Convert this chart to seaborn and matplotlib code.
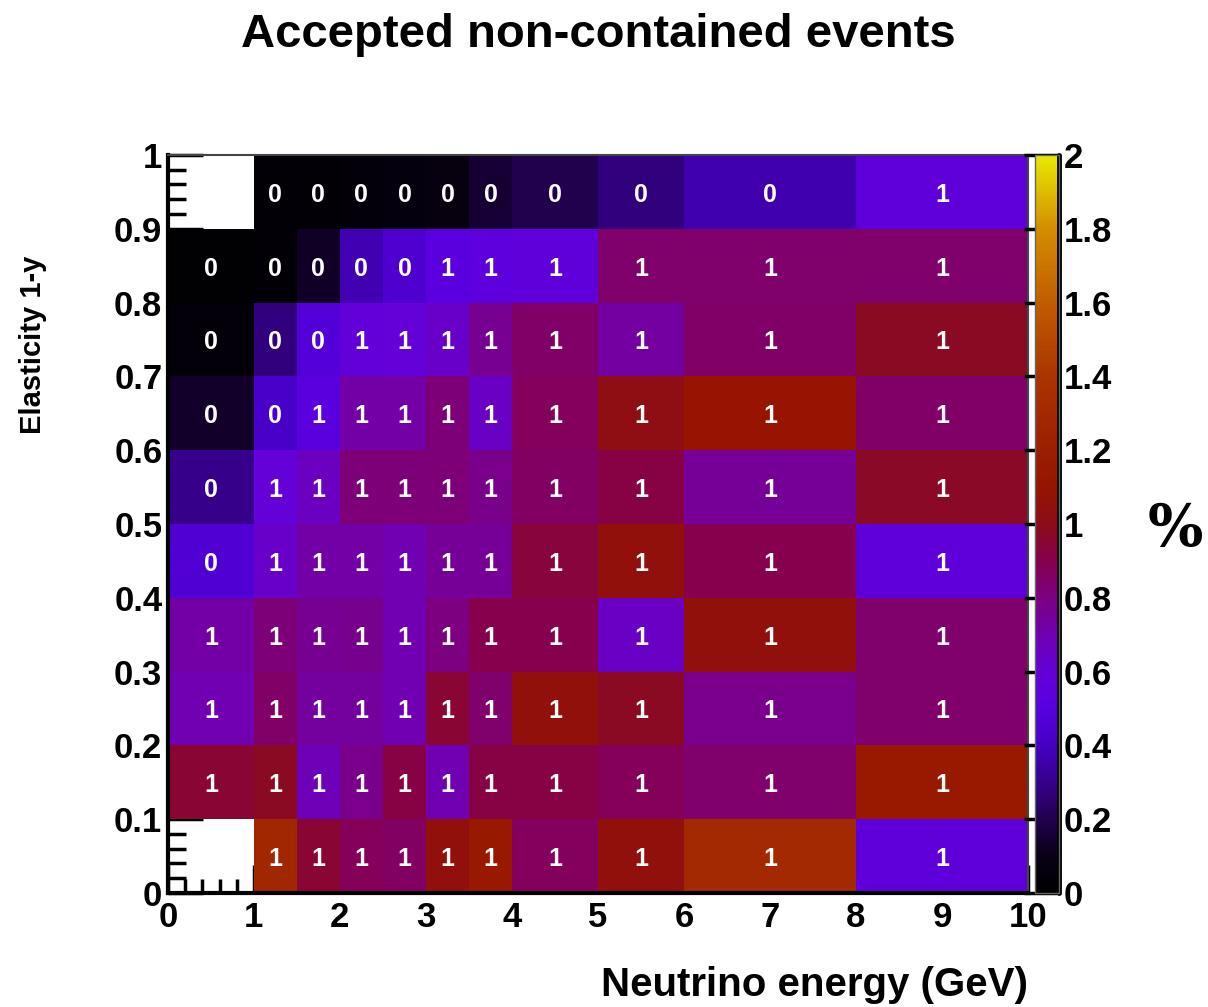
import numpy as np
import pandas as pd
import matplotlib
matplotlib.use("Agg")
import matplotlib.pyplot as plt
from matplotlib.colors import LinearSegmentedColormap
from matplotlib.ticker import MultipleLocator
import seaborn as sns

# Bin edges of the 2D histogram
energy_edges = [0, 1, 1.5, 2, 2.5, 3, 3.5, 4, 5, 6, 8, 10]
elasticity_edges = [0.0, 0.1, 0.2, 0.3, 0.4, 0.5, 0.6, 0.7, 0.8, 0.9, 1.0]

nan = np.nan
# Accepted fraction (%) per energy bin, one list per elasticity bin
y_0_1 = [nan, 1.28, 0.95, 0.88, 0.86, 1.05, 1.15, 0.87, 1.05, 1.30, 0.56]
y_1_2 = [0.95, 0.98, 0.68, 0.78, 0.92, 0.70, 0.92, 0.92, 0.88, 0.84, 1.15]
y_2_3 = [0.70, 0.85, 0.74, 0.74, 0.70, 0.95, 0.84, 1.05, 0.98, 0.78, 0.84]
y_3_4 = [0.72, 0.82, 0.76, 0.77, 0.70, 0.80, 0.90, 0.90, 0.65, 1.05, 0.84]
y_4_5 = [0.46, 0.64, 0.72, 0.72, 0.70, 0.75, 0.75, 0.93, 1.05, 0.90, 0.56]
y_5_6 = [0.30, 0.60, 0.66, 0.82, 0.82, 0.82, 0.78, 0.86, 0.92, 0.75, 0.97]
y_6_7 = [0.14, 0.42, 0.52, 0.72, 0.72, 0.82, 0.65, 0.87, 1.02, 1.10, 0.85]
y_7_8 = [0.04, 0.28, 0.47, 0.58, 0.60, 0.64, 0.76, 0.85, 0.73, 0.85, 0.98]
y_8_9 = [0.01, 0.03, 0.13, 0.37, 0.44, 0.52, 0.54, 0.56, 0.84, 0.84, 0.84]
y_9_10 = [nan, 0.03, 0.03, 0.04, 0.06, 0.07, 0.15, 0.20, 0.28, 0.36, 0.56]

rows = [y_0_1, y_1_2, y_2_3, y_3_4, y_4_5, y_5_6, y_6_7, y_7_8, y_8_9, y_9_10]

# Long table: one entry per filled bin, placed at the bin centre
records = []
for j, row in enumerate(rows):
    yc = 0.5 * (elasticity_edges[j] + elasticity_edges[j + 1])
    for i, v in enumerate(row):
        if np.isnan(v):
            continue
        xc = 0.5 * (energy_edges[i] + energy_edges[i + 1])
        records.append({"energy": xc, "elasticity": yc, "percent": v})
df = pd.DataFrame(records)

palette = LinearSegmentedColormap.from_list("radiator", [
    (0.00, "#000000"), (0.05, "#0a0018"), (0.10, "#220050"),
    (0.15, "#36008c"), (0.20, "#4600c4"), (0.25, "#5800e0"),
    (0.30, "#6400d8"), (0.35, "#7000b0"), (0.40, "#7c0080"),
    (0.45, "#86004e"), (0.50, "#8c0c18"), (0.55, "#961400"),
    (0.60, "#9c1e00"), (0.70, "#aa3400"), (0.80, "#c05c00"),
    (0.90, "#d48c00"), (1.00, "#e8e800"),
])

sns.set_theme(style="white")
plt.rcParams["font.family"] = ["Liberation Sans", "DejaVu Sans"]
plt.rcParams["font.weight"] = "bold"
plt.rcParams["text.color"] = "black"
plt.rcParams["xtick.color"] = "black"
plt.rcParams["ytick.color"] = "black"
plt.rcParams["xtick.labelcolor"] = "black"
plt.rcParams["ytick.labelcolor"] = "black"

fig = plt.figure(figsize=(12.08, 10.07), dpi=100)
ax = fig.add_axes([0.139, 0.1132, 0.712, 0.7329])
cax = fig.add_axes([0.857, 0.1132, 0.020, 0.7329])

sns.histplot(
    data=df, x="energy", y="elasticity", weights="percent",
    bins=[energy_edges, elasticity_edges], cmap=palette,
    vmin=0, vmax=2, cbar=True, cbar_ax=cax, ax=ax,
)

# Rounded value printed in every filled bin
for _, r in df.iterrows():
    ax.text(r["energy"], r["elasticity"] - 0.004, f"{r['percent']:.0f}",
            color="white", fontsize=18, fontweight="bold",
            ha="center", va="center")

ax.set_xlim(0, 10)
ax.set_ylim(0, 1)
ax.set_xlabel("")
ax.set_ylabel("")
ax.set_facecolor("white")

ax.xaxis.set_major_locator(MultipleLocator(1))
ax.xaxis.set_minor_locator(MultipleLocator(0.2))
ax.yaxis.set_minor_locator(MultipleLocator(0.02))
ax.set_xticks(range(0, 11))
ax.set_xticklabels([str(t) for t in range(0, 11)])
ax.set_yticks(elasticity_edges)
ax.set_yticklabels([f"{t:g}" for t in elasticity_edges])

ax.tick_params(axis="x", which="major", direction="in", length=20, width=2.5,
               labelsize=25, pad=6, bottom=True, top=False, colors="black")
ax.tick_params(axis="x", which="minor", direction="in", length=10, width=2.5,
               bottom=True, top=False, colors="black")
ax.tick_params(axis="y", which="major", direction="in", length=25, width=2.5,
               labelsize=25, pad=4, left=True, right=False, colors="black")
ax.tick_params(axis="y", which="minor", direction="in", length=13, width=2.5,
               left=True, right=False, colors="black")
for lab in ax.get_xticklabels() + ax.get_yticklabels():
    lab.set_fontweight("bold")

for side in ["left", "bottom"]:
    ax.spines[side].set_visible(True)
    ax.spines[side].set_color("black")
    ax.spines[side].set_linewidth(3)
for side in ["top", "right"]:
    ax.spines[side].set_visible(True)
    ax.spines[side].set_color("#444444")
    ax.spines[side].set_linewidth(1.5)

# Colour scale
cbar = ax.collections[0].colorbar
cbar.set_ticks([0, 0.2, 0.4, 0.6, 0.8, 1, 1.2, 1.4, 1.6, 1.8, 2])
cbar.set_ticklabels(["0", "0.2", "0.4", "0.6", "0.8", "1", "1.2", "1.4", "1.6", "1.8", "2"])
cbar.outline.set_linewidth(1)
cbar.outline.set_edgecolor("#666666")
cax.yaxis.set_ticks_position("right")
cax.tick_params(axis="y", which="major", direction="in", length=25, width=2.5,
                labelsize=25, pad=3, right=True, left=False, colors="black")
cax.minorticks_off()
for lab in cax.get_yticklabels():
    lab.set_fontweight("bold")
cax.axvline(1.0, color="black", lw=3.5, clip_on=False)

fig.text(0.495, 0.965, "Accepted non-contained events", ha="center", va="center",
         fontsize=34, fontweight="bold", color="black")
fig.text(0.851, 0.022, "Neutrino energy (GeV)", ha="right", va="center",
         fontsize=29, fontweight="bold", color="black")
fig.text(0.027, 0.658, "Elasticity 1-y", ha="center", va="center", rotation=90,
         fontsize=21, fontweight="bold", color="black")
fig.text(0.973, 0.474, "%", ha="center", va="center", fontsize=42,
         fontweight="bold", family="DejaVu Serif", color="black")

fig.savefig("out.png", dpi=100, facecolor="white")
